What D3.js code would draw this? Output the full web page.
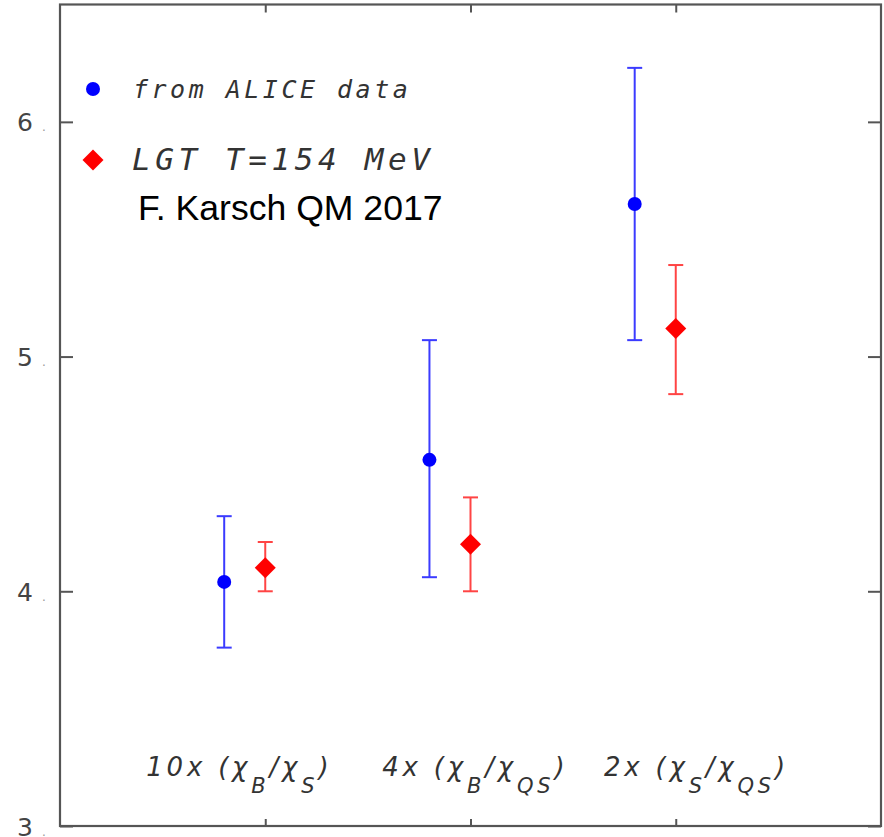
<!DOCTYPE html>
<html>
<head>
<meta charset="utf-8">
<script src="https://cdn.jsdelivr.net/npm/d3@7"></script>
<style>
  html, body { margin: 0; padding: 0; background: #fff; }
</style>
</head>
<body>
<svg id="chart"></svg>
<script>
// data
const groups = [1, 2, 3];
const aliceVal = [4.04, 4.56, 5.65];
const aliceLo = [3.76, 4.06, 5.07];
const aliceHi = [4.32, 5.07, 6.23];
const lgtVal = [4.10, 4.20, 5.12];
const lgtLo = [4.00, 4.00, 4.84];
const lgtHi = [4.21, 4.40, 5.39];
const yTicks = [3, 4, 5, 6];
// group labels: alternating normal text / subscript pieces
const labelParts = [
  ["10x (χ", "B", "/χ", "S", ")"],
  ["4x (χ", "B", "/χ", "QS", ")"],
  ["2x (χ", "S", "/χ", "QS", ")"]
];
const labelStart = [0.42, 1.57, 2.65];
const legendNames = ["from ALICE data", "LGT T=154 MeV"];
const credit = "F. Karsch QM 2017";

const width = 884;
const height = 837;
const marginLeft = 60;
const marginRight = 3;
const marginTop = 4.5;
const marginBottom = 11;

const svg = d3.select("#chart")
  .attr("width", width)
  .attr("height", height)
  .attr("viewBox", [0, 0, width, height]);

const x = d3.scaleLinear()
  .domain([0, 4])
  .range([marginLeft, width - marginRight]);

const y = d3.scaleLinear()
  .domain([3, 6.5])
  .range([height - marginBottom, marginTop]);

const frameColor = "#555";

// axes, ticks pointing inward
const leftAxis = svg.append("g")
  .attr("transform", `translate(${marginLeft},0)`)
  .call(d3.axisLeft(y).tickValues(yTicks).tickSizeInner(-13).tickSizeOuter(0));
const rightAxis = svg.append("g")
  .attr("transform", `translate(${width - marginRight},0)`)
  .call(d3.axisRight(y).tickValues(yTicks).tickSizeInner(-13).tickSizeOuter(0).tickFormat(""));
const topAxis = svg.append("g")
  .attr("transform", `translate(0,${marginTop})`)
  .call(d3.axisTop(x).tickValues(groups).tickSizeInner(-8).tickSizeOuter(0).tickFormat(""));
const bottomAxis = svg.append("g")
  .attr("transform", `translate(0,${height - marginBottom})`)
  .call(d3.axisBottom(x).tickValues(groups).tickSizeInner(-7).tickSizeOuter(0).tickFormat(""));

[leftAxis, rightAxis, topAxis, bottomAxis].forEach(g => {
  g.select(".domain").remove();
  g.selectAll(".tick line").attr("stroke", frameColor).attr("stroke-width", 2);
});

// y tick labels like "6 ."
leftAxis.selectAll(".tick text")
  .text(null)
  .attr("x", -43)
  .attr("dy", 9)
  .attr("text-anchor", "start")
  .attr("fill", "#444")
  .style("font-family", "'DejaVu Sans', sans-serif")
  .style("font-size", "25px")
  .each(function(d) {
    const t = d3.select(this);
    t.append("tspan").text(d);
    t.append("tspan").attr("dx", 9).attr("fill", "#999").style("font-size", "12px").text(".");
  });

// frame
svg.append("rect")
  .attr("x", x(0))
  .attr("y", y(6.5))
  .attr("width", x(4) - x(0))
  .attr("height", y(3) - y(6.5))
  .attr("fill", "none")
  .attr("stroke", frameColor)
  .attr("stroke-width", 2.2);

// error bars
function errorBars(cls, xs, lo, hi, color) {
  const g = svg.append("g").attr("class", cls).attr("stroke", color).attr("stroke-width", 2);
  const cap = 7.5;
  groups.forEach((gx, i) => {
    const cx = x(xs(gx));
    g.append("line").attr("x1", cx).attr("x2", cx).attr("y1", y(lo[i])).attr("y2", y(hi[i]));
    g.append("line").attr("x1", cx - cap).attr("x2", cx + cap).attr("y1", y(lo[i])).attr("y2", y(lo[i]));
    g.append("line").attr("x1", cx - cap).attr("x2", cx + cap).attr("y1", y(hi[i])).attr("y2", y(hi[i]));
  });
}

const aliceX = g => g - 0.2;
const lgtX = g => g;

errorBars("alice-err", aliceX, aliceLo, aliceHi, "#3b3bff");
errorBars("lgt-err", lgtX, lgtLo, lgtHi, "#ff4444");

svg.append("g")
  .selectAll("circle")
  .data(aliceVal)
  .join("circle")
  .attr("cx", (d, i) => x(aliceX(groups[i])))
  .attr("cy", d => y(d))
  .attr("r", 7)
  .attr("fill", "#0000ff");

const diamond = d3.symbol().type(d3.symbolSquare).size(220);
svg.append("g")
  .selectAll("path")
  .data(lgtVal)
  .join("path")
  .attr("d", diamond)
  .attr("transform", (d, i) => `translate(${x(lgtX(groups[i]))},${y(d)}) rotate(45)`)
  .attr("fill", "#ff0000");

// legend
const mono = "'DejaVu Sans Mono', monospace";
svg.append("circle").attr("cx", 93).attr("cy", 89).attr("r", 7).attr("fill", "#0000ff");
svg.append("path").attr("d", diamond).attr("transform", "translate(93,160) rotate(45)").attr("fill", "#ff0000");

svg.append("text")
  .attr("x", 133).attr("y", 98)
  .attr("fill", "#333")
  .style("font-family", mono)
  .style("font-style", "oblique")
  .style("font-size", "25px")
  .style("letter-spacing", "3.5px")
  .text(legendNames[0]);

svg.append("text")
  .attr("x", 132).attr("y", 170)
  .attr("fill", "#333")
  .style("font-family", mono)
  .style("font-style", "oblique")
  .style("font-size", "31px")
  .style("letter-spacing", "4.6px")
  .text(legendNames[1]);

svg.append("text")
  .attr("x", 138).attr("y", 220)
  .attr("fill", "#000")
  .style("font-family", "'Liberation Sans', Arial, sans-serif")
  .style("font-size", "35.6px")
  .text(credit);

// group labels along the bottom
labelParts.forEach((parts, i) => {
  const t = svg.append("text")
    .attr("x", x(labelStart[i]))
    .attr("y", 776)
    .attr("fill", "#333")
    .style("font-family", "'DejaVu Sans', sans-serif")
    .style("font-style", "oblique")
    .style("font-size", "26px")
    .style("letter-spacing", "3.8px");
  parts.forEach((p, j) => {
    const sub = j % 2 === 1;
    t.append("tspan")
      .attr("dy", sub ? 17 : (j === 0 ? 0 : -17))
      .style("font-size", sub ? "21px" : "26px")
      .text(p);
  });
});
</script>
</body>
</html>
